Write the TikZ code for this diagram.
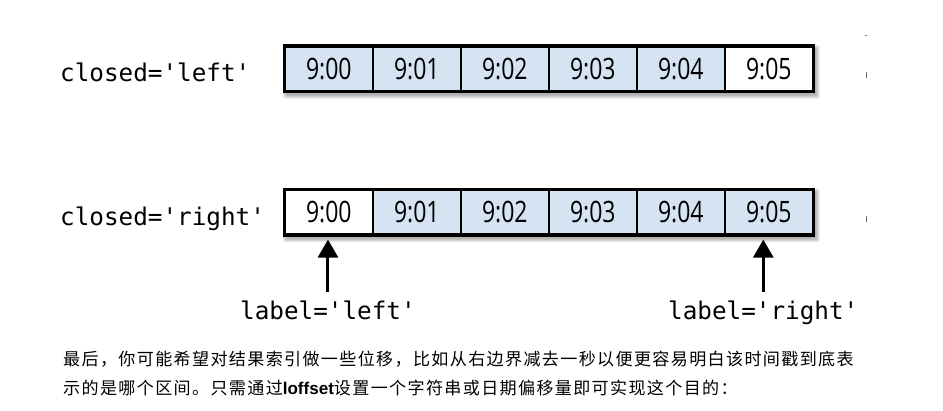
\documentclass[tikz,border=0pt]{standalone}
\usepackage{fontspec}
\setmainfont{Liberation Sans}
\newfontfamily\cjkfnt[LetterSpace=8]{Noto Sans CJK SC}
\newfontfamily\latfnt{Liberation Sans}
\newfontfamily\monofnt{DejaVu Sans Mono}
\newfontfamily\numfnt[FakeStretch=0.78]{Open Sans}
\usetikzlibrary{arrows.meta}
\definecolor{cellblue}{RGB}{213,227,242}
\newcommand{\rowshadow}[4]{%
  \foreach \d in {0,1,2,3,4,5}{%
    \fill[black,opacity=0.06,rounded corners=2pt] (#1+2-\d*0.6,#2+2-\d*0.6) rectangle (#3+4+\d*0.8,#4+5+\d*0.8);
  }%
}
\begin{document}
\begin{tikzpicture}[x=1pt,y=-1pt,
  cell/.style={draw=black,line width=1.6pt,minimum width=88pt,minimum height=44pt,
               inner sep=0pt,anchor=north west,font=\numfnt\fontsize{29.5}{29}\selectfont},
  codetxt/.style={font=\monofnt\fontsize{24.3}{24}\selectfont,anchor=base west,inner sep=0pt},
  cjktxt/.style={font=\cjkfnt\fontsize{17.05}{20}\selectfont,anchor=base west,inner sep=0pt},
  pointer/.style={line width=3pt,-{Triangle[width=20pt,length=18pt]},shorten >=4.5pt},
  frame/.style={draw=black,line width=3pt},
  edgemark/.style={draw=black!55,line width=0.8pt}
  ]
\useasboundingbox (0,0) rectangle (943,411);

% row 1 : closed='left'
\rowshadow{284}{46}{812}{90}
\node[codetxt] (cl) at (60,82) {closed='left'};
\node[cell,fill=cellblue] (a0) at (284,46) {9:00};
\node[cell,fill=cellblue] (a1) at (372,46) {9:01};
\node[cell,fill=cellblue] (a2) at (460,46) {9:02};
\node[cell,fill=cellblue] (a3) at (548,46) {9:03};
\node[cell,fill=cellblue] (a4) at (636,46) {9:04};
\node[cell,fill=white]    (a5) at (724,46) {9:05};
\draw[frame] (a0.north west) rectangle (a5.south east);

% row 2 : closed='right'
\rowshadow{284}{189.5}{812}{233.5}
\node[codetxt] (cr) at (60,226) {closed='right'};
\node[cell,fill=white]    (b0) at (284,189.5) {9:00};
\node[cell,fill=cellblue] (b1) at (372,189.5) {9:01};
\node[cell,fill=cellblue] (b2) at (460,189.5) {9:02};
\node[cell,fill=cellblue] (b3) at (548,189.5) {9:03};
\node[cell,fill=cellblue] (b4) at (636,189.5) {9:04};
\node[cell,fill=cellblue] (b5) at (724,189.5) {9:05};
\draw[frame] (b0.north west) rectangle (b5.south east);

% labels and pointers
\node[codetxt] (ll) at (240,320) {label='left'};
\node[codetxt] (lr) at (668,320) {label='right'};
\draw[pointer] ([yshift=9.5pt]ll.north) -- (ll.north |- b0.south);
\draw[pointer] ([yshift=9.5pt]lr.north) -- (lr.north |- b5.south);

% faint marks at the right edge
\draw[edgemark] (864.5,35) -- (867,35);
\draw[edgemark] (866,72) -- (866,78);
\draw[edgemark] (866,216) -- (866,222);

% paragraph
\node[cjktxt] (p1) at (63,365.5) {最后，你可能希望对结果索引做一些位移，比如从右边界减去一秒以便更容易明白该时间戳到底表};
\node[cjktxt] (p2) at (63,395) {示的是哪个区间。只需通过{\latfnt\bfseries loffset}设置一个字符串或日期偏移量即可实现这个目的：};
\end{tikzpicture}
\end{document}
